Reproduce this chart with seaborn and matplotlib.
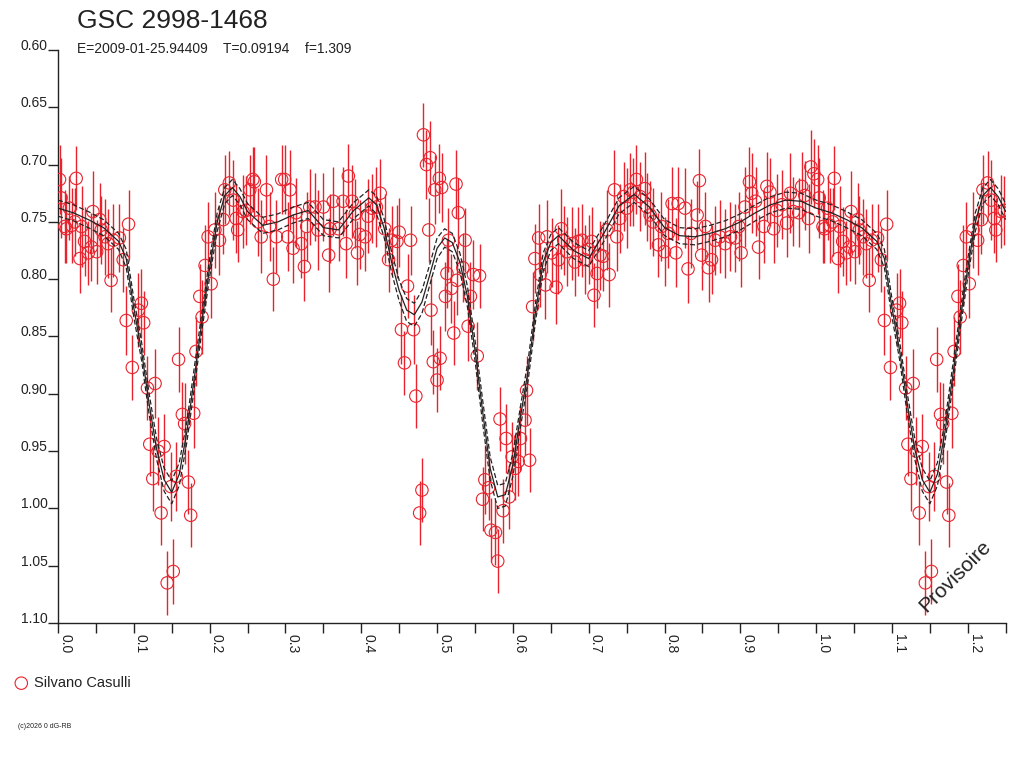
import numpy as np
import seaborn as sns
import matplotlib
matplotlib.use("Agg")
import matplotlib.pyplot as plt

# observed phases / magnitudes / errors (phase 0..1), Silvano Casulli
phase = [0.002, 0.004, 0.009, 0.011, 0.015, 0.018, 0.024, 0.022, 0.029, 0.031,
         0.035, 0.040, 0.046, 0.044, 0.051, 0.055, 0.057, 0.062, 0.066, 0.070,
         0.073, 0.081, 0.086, 0.093, 0.090, 0.098, 0.106, 0.110, 0.113, 0.118,
         0.128, 0.121, 0.132, 0.140, 0.125, 0.136, 0.144, 0.152, 0.149, 0.156,
         0.159, 0.164, 0.167, 0.172, 0.175, 0.179, 0.182, 0.190, 0.187, 0.194,
         0.202, 0.198, 0.207, 0.213, 0.218, 0.220, 0.226, 0.231, 0.235, 0.237,
         0.244, 0.248, 0.253, 0.257, 0.259, 0.264, 0.268, 0.275, 0.279, 0.284,
         0.288, 0.295, 0.299, 0.303, 0.306, 0.310, 0.314, 0.321, 0.325,
         0.328, 0.332, 0.339, 0.343, 0.350, 0.357, 0.359, 0.363, 0.370, 0.376,
         0.380, 0.383, 0.388, 0.392, 0.395, 0.398, 0.405, 0.409, 0.414, 0.420,
         0.425, 0.431, 0.436, 0.440, 0.447, 0.450, 0.453, 0.457, 0.461, 0.465,
         0.469, 0.472, 0.477, 0.480, 0.482, 0.486, 0.489, 0.491, 0.492, 0.495,
         0.497, 0.500, 0.503, 0.504, 0.506, 0.511, 0.513, 0.515, 0.519, 0.522,
         0.525, 0.528, 0.526, 0.534, 0.537, 0.541, 0.544, 0.548, 0.553, 0.556,
         0.560, 0.563, 0.568, 0.571, 0.577, 0.580, 0.583, 0.587, 0.591, 0.595,
         0.599, 0.603, 0.607, 0.610, 0.616, 0.622, 0.618, 0.626, 0.629, 0.634,
         0.636, 0.643, 0.645,
         0.651, 0.657, 0.660, 0.664, 0.667, 0.671, 0.678, 0.682, 0.686, 0.691,
         0.695, 0.700, 0.704, 0.707, 0.711, 0.715, 0.719, 0.724, 0.727, 0.734,
         0.737, 0.741, 0.746, 0.750, 0.755, 0.759, 0.763, 0.768, 0.774, 0.777,
         0.781, 0.785, 0.792, 0.796, 0.800, 0.805, 0.810, 0.815, 0.818, 0.827,
         0.831, 0.835, 0.843, 0.846, 0.849, 0.854, 0.858, 0.862, 0.867, 0.873,
         0.880, 0.887, 0.893, 0.898, 0.901, 0.906, 0.912, 0.915, 0.920, 0.924,
         0.931, 0.935, 0.939, 0.944, 0.948, 0.955, 0.961, 0.966, 0.970,
         0.977, 0.981, 0.985, 0.990, 0.993, 0.997]
mag = [0.713, 0.729, 0.754, 0.756, 0.738, 0.753, 0.712, 0.750, 0.782, 0.754,
       0.767, 0.777, 0.741, 0.772, 0.776, 0.748, 0.757, 0.763, 0.769, 0.801,
       0.766, 0.764, 0.783, 0.752, 0.836, 0.877, 0.827, 0.821, 0.838, 0.895,
       0.891, 0.944, 0.950, 0.946, 0.974, 1.004, 1.065, 1.055, 0.981, 0.972,
       0.870, 0.918, 0.926, 0.977, 1.006, 0.917, 0.863, 0.833, 0.815, 0.788,
       0.804, 0.763, 0.757, 0.766, 0.748, 0.722, 0.716, 0.731, 0.747, 0.757,
       0.741, 0.740, 0.722, 0.713, 0.715, 0.750, 0.763, 0.722, 0.754, 0.800,
       0.763, 0.713, 0.713, 0.763, 0.722, 0.773, 0.742, 0.769, 0.789,
       0.754, 0.737, 0.737, 0.757, 0.737, 0.779, 0.756, 0.732, 0.756, 0.732,
       0.769, 0.710, 0.732, 0.743, 0.777, 0.761, 0.763, 0.745, 0.738, 0.737,
       0.725, 0.756, 0.783, 0.766, 0.767, 0.759, 0.844, 0.873, 0.806, 0.766,
       0.844, 0.902, 1.004, 0.984, 0.674, 0.700, 0.757, 0.694, 0.827, 0.872,
       0.722, 0.888, 0.712, 0.869, 0.720, 0.815, 0.795, 0.766, 0.808, 0.847,
       0.717, 0.742, 0.801, 0.790, 0.766, 0.841, 0.815, 0.796, 0.867, 0.797,
       0.992, 0.975, 0.982, 1.019, 1.021, 1.046, 0.922, 1.002, 0.939, 0.990,
       0.955, 0.965, 0.959, 0.939, 0.923, 0.958, 0.897, 0.824, 0.782, 0.764,
       0.796, 0.805, 0.763,
       0.777, 0.807, 0.783, 0.756, 0.766, 0.776, 0.769, 0.785, 0.767, 0.766,
       0.783, 0.774, 0.767, 0.814, 0.795, 0.779, 0.780, 0.757, 0.796, 0.722,
       0.763, 0.747, 0.728, 0.738, 0.722, 0.724, 0.713, 0.728, 0.721, 0.737,
       0.744, 0.750, 0.770, 0.754, 0.776, 0.760, 0.734, 0.777, 0.734, 0.738,
       0.791, 0.760, 0.744, 0.714, 0.779, 0.754, 0.790, 0.783, 0.766, 0.763,
       0.769, 0.763, 0.764, 0.754, 0.777, 0.737, 0.715, 0.725, 0.732, 0.772,
       0.754, 0.719, 0.724, 0.756, 0.740, 0.735, 0.751, 0.725, 0.741,
       0.742, 0.719, 0.727, 0.747, 0.702, 0.708]
err = [0.030, 0.035, 0.032, 0.030, 0.028, 0.033, 0.028, 0.030, 0.030, 0.035,
       0.030, 0.028, 0.035, 0.030, 0.028, 0.032, 0.030, 0.033, 0.030, 0.028,
       0.032, 0.030, 0.028, 0.030, 0.030, 0.028, 0.032, 0.030, 0.028, 0.028,
       0.030, 0.028, 0.030, 0.028, 0.028, 0.028, 0.028, 0.028, 0.030, 0.030,
       0.028, 0.028, 0.035, 0.028, 0.028, 0.030, 0.030, 0.032, 0.028, 0.035,
       0.030, 0.030, 0.033, 0.030, 0.030, 0.030, 0.028, 0.035, 0.030, 0.028,
       0.032, 0.030, 0.030, 0.028, 0.030, 0.030, 0.032, 0.030, 0.030, 0.028,
       0.032, 0.030, 0.030, 0.030, 0.035, 0.030, 0.030, 0.030, 0.030,
       0.030, 0.033, 0.030, 0.035, 0.030, 0.032, 0.030, 0.030, 0.028, 0.030,
       0.030, 0.028, 0.032, 0.030, 0.028, 0.030, 0.030, 0.032, 0.030, 0.035,
       0.030, 0.030, 0.028, 0.030, 0.032, 0.030, 0.030, 0.028, 0.028, 0.030,
       0.030, 0.028, 0.028, 0.028, 0.028, 0.030, 0.028, 0.032, 0.030, 0.028,
       0.030, 0.028, 0.030, 0.028, 0.030, 0.030, 0.030, 0.028, 0.030, 0.028,
       0.030, 0.030, 0.030, 0.030, 0.028, 0.030, 0.030, 0.030, 0.030, 0.028,
       0.028, 0.030, 0.028, 0.028, 0.028, 0.028, 0.028, 0.028, 0.030, 0.028,
       0.030, 0.028, 0.030, 0.028, 0.030, 0.028, 0.030, 0.030, 0.030, 0.030,
       0.028, 0.030, 0.032,
       0.030, 0.032, 0.030, 0.035, 0.030, 0.030, 0.032, 0.030, 0.030, 0.032,
       0.030, 0.030, 0.030, 0.028, 0.030, 0.030, 0.030, 0.035, 0.028, 0.035,
       0.030, 0.030, 0.030, 0.035, 0.032, 0.030, 0.030, 0.030, 0.032, 0.030,
       0.030, 0.030, 0.028, 0.030, 0.030, 0.030, 0.032, 0.030, 0.032, 0.035,
       0.030, 0.030, 0.030, 0.028, 0.030, 0.030, 0.030, 0.030, 0.030, 0.032,
       0.030, 0.030, 0.030, 0.030, 0.030, 0.035, 0.030, 0.035, 0.030, 0.028,
       0.032, 0.030, 0.030, 0.030, 0.032, 0.030, 0.030, 0.035, 0.030,
       0.030, 0.030, 0.030, 0.030, 0.032, 0.030]

# fitted light curve and its envelope
fit_phase = [0.00, 0.02, 0.04, 0.06, 0.08, 0.09, 0.10, 0.11, 0.12, 0.13,
             0.14, 0.15, 0.16, 0.17, 0.18, 0.19, 0.20, 0.21, 0.22, 0.23,
             0.24, 0.25, 0.27, 0.29, 0.31, 0.33, 0.35, 0.37, 0.39, 0.41,
             0.42, 0.43, 0.44, 0.45, 0.46, 0.47, 0.48, 0.49, 0.50, 0.51,
             0.52, 0.53, 0.54, 0.55, 0.56, 0.57, 0.58, 0.59, 0.60, 0.61,
             0.62, 0.63, 0.64, 0.65, 0.66, 0.68, 0.70, 0.72, 0.74, 0.76,
             0.78, 0.80, 0.82, 0.84, 0.86, 0.88, 0.90, 0.92, 0.94, 0.96,
             0.98, 1.00]
fit_mag = [0.738, 0.742, 0.748, 0.755, 0.767, 0.782, 0.825, 0.862, 0.908, 0.948,
           0.975, 0.986, 0.970, 0.933, 0.885, 0.836, 0.790, 0.750, 0.727, 0.720,
           0.728, 0.741, 0.753, 0.750, 0.744, 0.740, 0.755, 0.757, 0.740, 0.729,
           0.735, 0.755, 0.785, 0.810, 0.827, 0.831, 0.820, 0.797, 0.773, 0.764,
           0.768, 0.785, 0.815, 0.862, 0.915, 0.965, 0.990, 0.988, 0.962, 0.920,
           0.880, 0.828, 0.785, 0.768, 0.762, 0.775, 0.782, 0.760, 0.736, 0.726,
           0.737, 0.755, 0.762, 0.763, 0.760, 0.756, 0.750, 0.742, 0.735, 0.731,
           0.732, 0.738]
fit_err = [0.007, 0.007, 0.007, 0.007, 0.007, 0.008, 0.008, 0.008, 0.009, 0.009,
           0.010, 0.010, 0.010, 0.009, 0.009, 0.008, 0.008, 0.008, 0.007, 0.007,
           0.007, 0.007, 0.007, 0.007, 0.007, 0.007, 0.007, 0.007, 0.007, 0.007,
           0.008, 0.008, 0.009, 0.009, 0.010, 0.010, 0.010, 0.009, 0.009, 0.008,
           0.008, 0.008, 0.009, 0.009, 0.010, 0.010, 0.010, 0.010, 0.010, 0.009,
           0.009, 0.008, 0.008, 0.007, 0.007, 0.007, 0.007, 0.007, 0.007, 0.007,
           0.007, 0.007, 0.007, 0.007, 0.007, 0.007, 0.007, 0.007, 0.007, 0.007,
           0.007, 0.007]

x_ticks = [0.0, 0.1, 0.2, 0.3, 0.4, 0.5, 0.6, 0.7, 0.8, 0.9, 1.0, 1.1, 1.2]
y_ticks = [0.60, 0.65, 0.70, 0.75, 0.80, 0.85, 0.90, 0.95, 1.00, 1.05, 1.10]

red = "#e8232d"
ink = "#222222"

# the plot repeats phases up to 0.25 after phase 1
ph = np.array(phase)
mg = np.array(mag)
er = np.array(err)
wrap = ph < 0.25
ph = np.concatenate([ph, ph[wrap] + 1])
mg = np.concatenate([mg, mg[wrap]])
er = np.concatenate([er, er[wrap]])

fp = np.array(fit_phase)
fm = np.array(fit_mag)
fe = np.array(fit_err)
fwrap = (fp > 0) & (fp <= 0.25)
fp = np.concatenate([fp, fp[fwrap] + 1])
fm = np.concatenate([fm, fm[fwrap]])
fe = np.concatenate([fe, fe[fwrap]])

sns.set_style("ticks")
plt.rcParams["font.family"] = ["Liberation Sans", "DejaVu Sans"]

fig = plt.figure(figsize=(10.24, 7.68), dpi=100)
ax = fig.add_axes([58 / 1024, 1 - 623 / 768, 947.7 / 1024, 573 / 768])

ax.vlines(ph, mg - er, mg + er, color=red, lw=1.0, zorder=2)
sns.scatterplot(x=ph, y=mg, ax=ax, marker="o", s=80, color=red,
                facecolor="none", edgecolor=red, linewidth=0.8,
                label="Silvano Casulli", zorder=3)

sns.lineplot(x=fp, y=fm, ax=ax, sort=False, estimator=None,
             color=ink, lw=0.9, zorder=4)
sns.lineplot(x=fp, y=fm - fe, ax=ax, sort=False, estimator=None,
             color=ink, lw=0.9, linestyle=(0, (4, 2)), zorder=4)
sns.lineplot(x=fp, y=fm + fe, ax=ax, sort=False, estimator=None,
             color=ink, lw=0.9, linestyle=(0, (4, 2)), zorder=4)

ax.set_xlim(0, 1.25)
ax.set_ylim(1.10, 0.60)
ax.set_xlabel("")
ax.set_ylabel("")

ax.set_xticks(x_ticks, [f"{t:.1f}" for t in x_ticks])
ax.set_xticks(np.arange(0.05, 1.26, 0.1), minor=True)
ax.set_yticks(y_ticks, [f"{t:.2f}" for t in y_ticks])
ax.tick_params(axis="x", which="both", direction="out", length=7, width=1,
               color=ink, labelsize=10, labelcolor=ink, pad=1)
ax.tick_params(axis="y", direction="out", length=7.5, width=1,
               color=ink, labelsize=10, labelcolor=ink, pad=0)
plt.setp(ax.get_xticklabels(), rotation=-90, ha="left", va="top")
plt.setp(ax.get_yticklabels(), va="baseline")

for side in ["top", "right"]:
    ax.spines[side].set_visible(False)
for side in ["left", "bottom"]:
    ax.spines[side].set_color(ink)
    ax.spines[side].set_linewidth(1.0)

ax.legend(loc="center left", bbox_to_anchor=(14 / 1024, 1 - 683 / 768),
          bbox_transform=fig.transFigure, frameon=False, fontsize=10.5,
          borderpad=0, borderaxespad=0, handlelength=1.0, handletextpad=0.4,
          labelcolor=ink)

fig.text(77 / 1024, 1 - 28 / 768, "GSC 2998-1468", fontsize=19, color=ink,
         va="baseline")
fig.text(77 / 1024, 1 - 53 / 768, "E=2009-01-25.94409    T=0.09194    f=1.309",
         fontsize=10, color=ink, va="baseline")
fig.text(18 / 1024, 1 - 728 / 768, "(c)2026 0 dG-RB", fontsize=5, color=ink,
         va="baseline")
ax.text(955 / 1024, 1 - 576 / 768, "Provisoire", transform=fig.transFigure,
        fontsize=15, color=ink, rotation=45, ha="center", va="center")

fig.savefig("out.png", dpi=100)
